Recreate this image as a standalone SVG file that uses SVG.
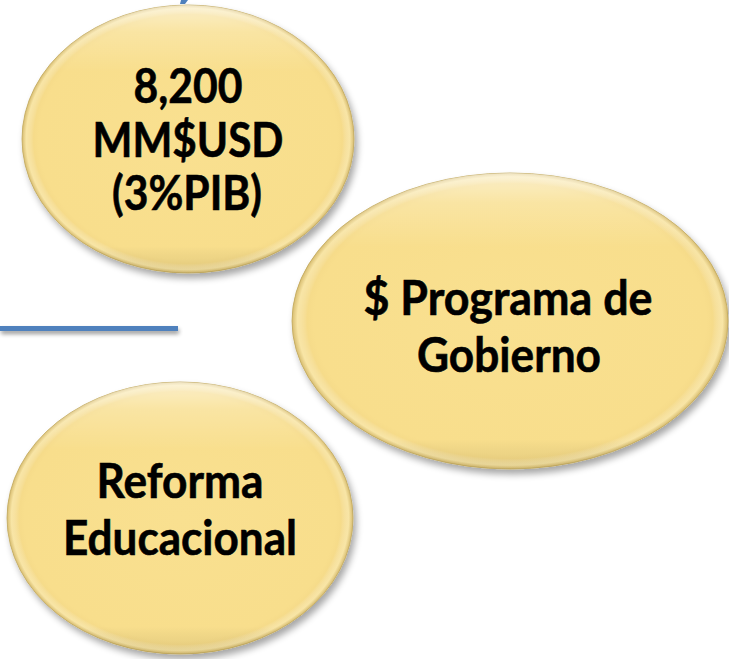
<svg xmlns="http://www.w3.org/2000/svg" width="729" height="659" viewBox="0 0 729 659">
<defs>
<style>
.lbl{font-family:Lato,"Open Sans","Liberation Sans",sans-serif;font-weight:bold;font-size:48px;fill:#000;stroke:#000;stroke-width:0.6;text-anchor:middle}
.body{fill:url(#fillG);stroke:#c2a95e;stroke-width:0.8}
.hi{fill:url(#hiG)}
.rim{fill:url(#rimG)}
</style>
<radialGradient id="fillG" cx="0.5" cy="0.5" r="0.5">
<stop offset="0" stop-color="#f9e090"/>
<stop offset="0.9" stop-color="#f8de8c"/>
<stop offset="1" stop-color="#f1d584"/>
</radialGradient>
<linearGradient id="hiG" x1="0" y1="0" x2="0" y2="1">
<stop offset="0" stop-color="#ffffff" stop-opacity="0.55"/>
<stop offset="0.1" stop-color="#ffffff" stop-opacity="0.2"/>
<stop offset="0.25" stop-color="#ffffff" stop-opacity="0"/>
<stop offset="0.9" stop-color="#000000" stop-opacity="0"/>
<stop offset="1" stop-color="#6b5a20" stop-opacity="0.12"/>
</linearGradient>
<radialGradient id="rimG" cx="0.5" cy="0.5" r="0.5">
<stop offset="0.93" stop-color="#fff" stop-opacity="0"/>
<stop offset="0.975" stop-color="#fff6cc" stop-opacity="0.45"/>
<stop offset="1" stop-color="#b89e55" stop-opacity="0.45"/>
</radialGradient>
<filter id="sh" x="-20%" y="-20%" width="140%" height="140%">
<feGaussianBlur in="SourceAlpha" stdDeviation="3.5"/>
<feOffset dx="3" dy="5" result="b"/>
<feComponentTransfer><feFuncA type="linear" slope="0.35"/></feComponentTransfer>
<feMerge><feMergeNode/><feMergeNode in="SourceGraphic"/></feMerge>
</filter>
<filter id="lsh" x="-5%" y="-200%" width="110%" height="500%">
<feGaussianBlur in="SourceAlpha" stdDeviation="2"/>
<feOffset dx="1" dy="3"/>
<feComponentTransfer><feFuncA type="linear" slope="0.4"/></feComponentTransfer>
<feMerge><feMergeNode/><feMergeNode in="SourceGraphic"/></feMerge>
</filter>
</defs>
<rect width="729" height="659" fill="#ffffff"/>
<g id="decor">
<polygon points="181,0 188,0 185,4 180,4" fill="#4f81bd"/>
<rect x="0" y="326" width="178" height="5" fill="#4f81bd" filter="url(#lsh)"/>
</g>
<g id="connectors"></g>
<g id="node-presupuesto">
<g filter="url(#sh)">
<ellipse class="body" cx="188" cy="139" rx="166" ry="134"/>
</g>
<ellipse class="rim" cx="188" cy="139" rx="166" ry="134"/>
<ellipse class="hi" cx="188" cy="139" rx="166" ry="134"/>
<text class="lbl" x="188" y="103" textLength="109" lengthAdjust="spacingAndGlyphs">8,200</text>
<text class="lbl" x="188" y="157" textLength="191" lengthAdjust="spacingAndGlyphs">MM$USD</text>
<text class="lbl" x="187" y="210" textLength="150" lengthAdjust="spacingAndGlyphs">(3%PIB)</text>
</g>
<g id="node-programa">
<g filter="url(#sh)">
<ellipse class="body" cx="510" cy="321" rx="218" ry="148"/>
</g>
<ellipse class="rim" cx="510" cy="321" rx="218" ry="148"/>
<ellipse class="hi" cx="510" cy="321" rx="218" ry="148"/>
<text class="lbl" x="508" y="315" textLength="289" lengthAdjust="spacingAndGlyphs">$ Programa de</text>
<text class="lbl" x="509" y="372" textLength="184" lengthAdjust="spacingAndGlyphs">Gobierno</text>
</g>
<g id="node-reforma">
<g filter="url(#sh)">
<ellipse class="body" cx="180" cy="518" rx="173" ry="136"/>
</g>
<ellipse class="rim" cx="180" cy="518" rx="173" ry="136"/>
<ellipse class="hi" cx="180" cy="518" rx="173" ry="136"/>
<text class="lbl" x="180" y="498" textLength="167" lengthAdjust="spacingAndGlyphs">Reforma</text>
<text class="lbl" x="180" y="555" textLength="234" lengthAdjust="spacingAndGlyphs">Educacional</text>
</g>
</svg>
